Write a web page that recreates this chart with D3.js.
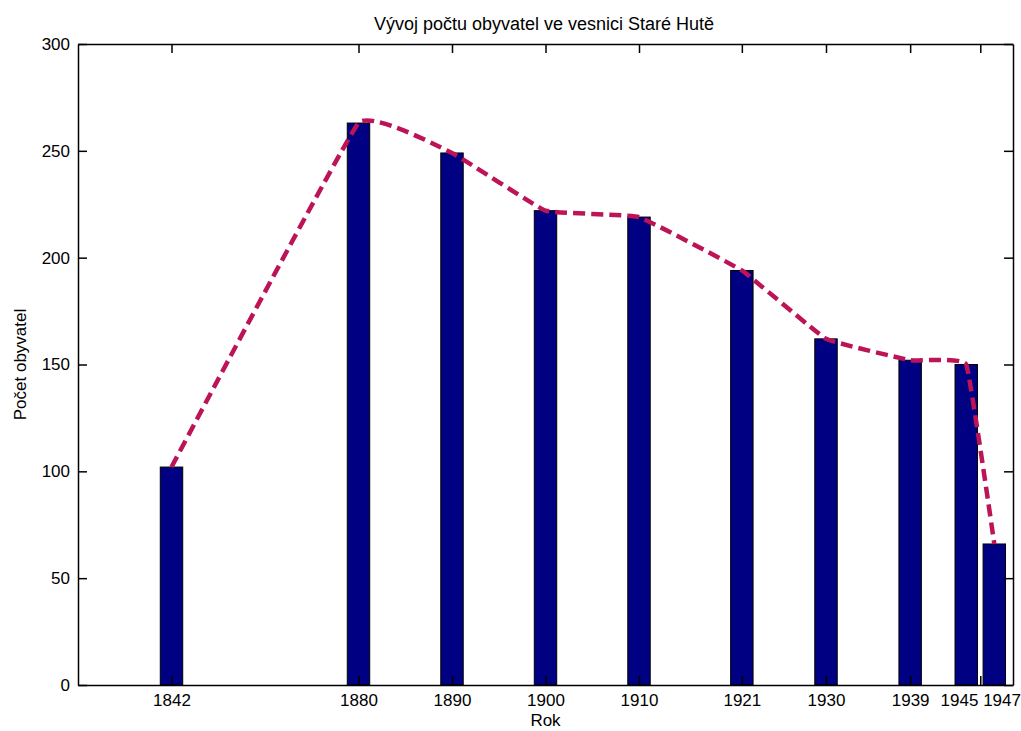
<!DOCTYPE html>
<html>
<head>
<meta charset="utf-8">
<script src="https://cdn.jsdelivr.net/npm/d3@7"></script>
<style>
  html, body { margin: 0; padding: 0; background: #fff; }
  svg { display: block; }
  text { font-family: "Liberation Sans", Arial, sans-serif; fill: #000; }
</style>
</head>
<body>
<svg id="chart" width="1021" height="731"></svg>
<script>
// ---- data ----
const yearLabels = ["1842", "1880", "1890", "1900", "1910", "1921", "1930", "1939", "1945", "1947"];
const plotPositions = [1860, 1880, 1890, 1900, 1910, 1921, 1930, 1939, 1945, 1948];
const population = [102, 263, 249, 222, 219, 194, 162, 152, 150, 66];
const xTickValues = [1860, 1880, 1890, 1900, 1910, 1921, 1930, 1939, 1946.5];
const xTickLabels = ["1842", "1880", "1890", "1900", "1910", "1921", "1930", "1939", "1945 1947"];
const yTickValues = [0, 50, 100, 150, 200, 250, 300];
const xDomain = [1850, 1950];
const yDomain = [0, 300];
const barWidthYears = 2.4;

const titleText = "Vývoj počtu obyvatel ve vesnici Staré Hutě";
const xLabelText = "Rok";
const yLabelText = "Počet obyvatel";

// ---- layout ----
const W = 1021, H = 731;
const m = { left: 78, right: 1013, top: 44, bottom: 685 };
const svg = d3.select("#chart");

const x = d3.scaleLinear().domain(xDomain).range([m.left, m.right]);
const y = d3.scaleLinear().domain(yDomain).range([m.bottom, m.top]);

const data = plotPositions.map((p, i) => ({ pos: p, label: yearLabels[i], value: population[i] }));

// bars
const bw = x(xDomain[0] + barWidthYears) - x(xDomain[0]);
svg.append("g").selectAll("rect").data(data).join("rect")
  .attr("x", d => x(d.pos) - bw / 2)
  .attr("y", d => y(d.value))
  .attr("width", bw)
  .attr("height", d => y(0) - y(d.value))
  .attr("fill", "#000082")
  .attr("stroke", "#000")
  .attr("stroke-width", 1);

// dashed smooth line
const line = d3.line().x(d => x(d.pos)).y(d => y(d.value)).curve(d3.curveCardinal.tension(0.75));
svg.append("path").datum(data)
  .attr("d", line)
  .attr("fill", "none")
  .attr("stroke", "#bc1456")
  .attr("stroke-width", 4.5)
  .attr("stroke-dasharray", "12,6");

// axes (MATLAB style: ticks inward on all sides)
const tickLen = 9;
const fs = 17;
const xAxisB = d3.axisBottom(x).tickValues(xTickValues)
  .tickFormat((d, i) => xTickLabels[i]).tickSizeInner(-tickLen).tickSizeOuter(0).tickPadding(9);
const xAxisT = d3.axisTop(x).tickValues(xTickValues).tickFormat("").tickSizeInner(-tickLen).tickSizeOuter(0);
const yAxisL = d3.axisLeft(y).tickValues(yTickValues).tickFormat(d3.format("d"))
  .tickSizeInner(-tickLen).tickSizeOuter(0).tickPadding(8);
const yAxisR = d3.axisRight(y).tickValues(yTickValues).tickFormat("").tickSizeInner(-tickLen).tickSizeOuter(0);

function style(g) {
  g.select(".domain").attr("stroke", "#000").attr("stroke-width", 1.5);
  g.selectAll(".tick line").attr("stroke", "#000").attr("stroke-width", 1.5);
  g.selectAll(".tick text").attr("font-size", fs).attr("fill", "#000")
    .attr("font-family", "'Liberation Sans', Arial, sans-serif");
}
svg.append("g").attr("transform", `translate(0,${m.bottom})`).call(xAxisB).call(style);
svg.append("g").attr("transform", `translate(0,${m.top})`).call(xAxisT).call(style);
svg.append("g").attr("transform", `translate(${m.left},0)`).call(yAxisL).call(style);
svg.append("g").attr("transform", `translate(${m.right},0)`).call(yAxisR).call(style);

// title and labels
svg.append("text").attr("x", 544).attr("y", 30)
  .attr("text-anchor", "middle").attr("font-size", 18).text(titleText);
svg.append("text").attr("x", (m.left + m.right) / 2).attr("y", 726)
  .attr("text-anchor", "middle").attr("font-size", fs).text(xLabelText);
svg.append("text")
  .attr("transform", `translate(26,${(m.top + m.bottom) / 2}) rotate(-90)`)
  .attr("text-anchor", "middle").attr("font-size", fs).text(yLabelText);
</script>
</body>
</html>
